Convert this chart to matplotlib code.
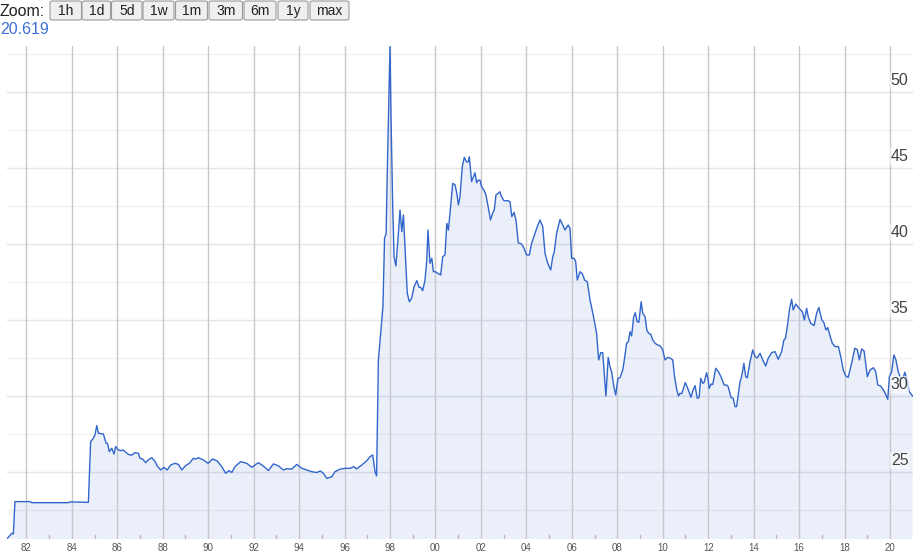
import numpy as np
import matplotlib
matplotlib.use("Agg")
import matplotlib.pyplot as plt
from matplotlib.patches import FancyBboxPatch
from matplotlib.transforms import blended_transform_factory

plt.rcParams['font.family'] = ['Liberation Sans', 'DejaVu Sans']

# Data (decimal year, price)
years = [
    1981.16, 1981.36, 1981.43, 1981.50, 1982.16, 1982.24, 1983.85, 1983.92, 1984.73, 1984.83,
    1984.95, 1985.02, 1985.10, 1985.17, 1985.39, 1985.51, 1985.57, 1985.65, 1985.76, 1985.86,
    1985.93, 1986.05, 1986.15, 1986.26, 1986.34, 1986.49, 1986.63, 1986.78, 1986.93, 1987.00,
    1987.12, 1987.25, 1987.37, 1987.52, 1987.66, 1987.76, 1987.91, 1988.05, 1988.20, 1988.35,
    1988.54, 1988.69, 1988.84, 1988.99, 1989.17, 1989.35, 1989.45, 1989.57, 1989.79, 1990.00,
    1990.20, 1990.40, 1990.60, 1990.77, 1990.92, 1991.04, 1991.18, 1991.43, 1991.70, 1991.92,
    1992.21, 1992.42, 1992.65, 1992.87, 1993.09, 1993.31, 1993.48, 1993.67, 1993.90, 1994.12,
    1994.34, 1994.56, 1994.78, 1994.93, 1995.07, 1995.22, 1995.44, 1995.58, 1995.80, 1996.02,
    1996.24, 1996.41, 1996.53, 1996.76, 1996.98, 1997.12, 1997.24, 1997.34, 1997.41, 1997.49,
    1997.60, 1997.69, 1997.76, 1997.83, 1997.88, 1998.00, 1998.05, 1998.12, 1998.18, 1998.26,
    1998.37, 1998.44, 1998.52, 1998.59, 1998.66, 1998.76, 1998.85, 1998.95, 1999.06, 1999.18,
    1999.28, 1999.35, 1999.44, 1999.54, 1999.62, 1999.67, 1999.76, 1999.84, 1999.91, 1999.98,
    2000.10, 2000.23, 2000.32, 2000.42, 2000.50, 2000.57, 2000.64, 2000.76, 2000.86, 2000.94,
    2001.01, 2001.08, 2001.18, 2001.27, 2001.37, 2001.44, 2001.49, 2001.59, 2001.66, 2001.74,
    2001.81, 2001.88, 2001.96, 2002.03, 2002.13, 2002.21, 2002.32, 2002.42, 2002.52, 2002.59,
    2002.66, 2002.77, 2002.83, 2002.91, 2003.01, 2003.13, 2003.20, 2003.28, 2003.36, 2003.46,
    2003.55, 2003.64, 2003.79, 2003.89, 2004.01, 2004.13, 2004.23, 2004.38, 2004.48, 2004.60,
    2004.72, 2004.82, 2004.94, 2005.07, 2005.16, 2005.23, 2005.33, 2005.48, 2005.60, 2005.70,
    2005.84, 2005.92, 2005.99, 2006.10, 2006.17, 2006.24, 2006.36, 2006.47, 2006.56, 2006.68,
    2006.80, 2006.94, 2007.09, 2007.18, 2007.27, 2007.36, 2007.50, 2007.60, 2007.68, 2007.75,
    2007.85, 2007.93, 2008.03, 2008.12, 2008.24, 2008.32, 2008.41, 2008.49, 2008.56, 2008.63,
    2008.72, 2008.79, 2008.87, 2008.95, 2009.05, 2009.12, 2009.22, 2009.30, 2009.38, 2009.47,
    2009.56, 2009.66, 2009.77, 2009.89, 2010.00, 2010.10, 2010.22, 2010.32, 2010.44, 2010.52,
    2010.62, 2010.69, 2010.76, 2010.84, 2010.99, 2011.10, 2011.24, 2011.31, 2011.42, 2011.52,
    2011.60, 2011.67, 2011.76, 2011.82, 2011.93, 2012.00, 2012.04, 2012.13, 2012.20, 2012.33,
    2012.45, 2012.56, 2012.70, 2012.81, 2012.88, 2013.00, 2013.10, 2013.18, 2013.25, 2013.32,
    2013.40, 2013.47, 2013.57, 2013.65, 2013.72, 2013.84, 2013.96, 2014.06, 2014.16, 2014.28,
    2014.40, 2014.53, 2014.64, 2014.79, 2014.94, 2015.08, 2015.23, 2015.33, 2015.40, 2015.50,
    2015.57, 2015.67, 2015.74, 2015.85, 2015.93, 2016.04, 2016.14, 2016.23, 2016.33, 2016.40,
    2016.51, 2016.66, 2016.77, 2016.87, 2016.99, 2017.09, 2017.18, 2017.26, 2017.36, 2017.46,
    2017.58, 2017.73, 2017.84, 2017.94, 2018.05, 2018.16, 2018.31, 2018.45, 2018.56, 2018.65,
    2018.75, 2018.86, 2019.00, 2019.12, 2019.27, 2019.37, 2019.46, 2019.59, 2019.71, 2019.82,
    2019.90, 2019.97, 2020.07, 2020.17, 2020.26, 2020.36, 2020.47, 2020.58, 2020.65, 2020.75,
    2020.84, 2020.99,
]
prices = [
    20.62, 20.97, 20.92, 23.05, 23.05, 22.98, 22.98, 23.03, 23.00, 27.00,
    27.22, 27.43, 28.05, 27.55, 27.50, 26.89, 26.89, 26.34, 26.56, 26.18,
    26.67, 26.45, 26.40, 26.45, 26.34, 26.16, 26.10, 26.27, 26.23, 25.90,
    25.85, 25.61, 25.80, 25.94, 25.70, 25.39, 25.13, 25.30, 25.13, 25.46,
    25.57, 25.50, 25.13, 25.40, 25.57, 25.90, 25.85, 25.94, 25.79, 25.57,
    25.86, 25.72, 25.35, 24.91, 25.09, 24.96, 25.35, 25.68, 25.57, 25.31,
    25.61, 25.40, 25.09, 25.53, 25.40, 25.13, 25.22, 25.18, 25.50, 25.24,
    25.13, 25.02, 24.96, 25.07, 24.91, 24.58, 24.69, 25.02, 25.18, 25.24,
    25.24, 25.35, 25.20, 25.46, 25.74, 26.00, 26.12, 25.02, 24.74, 32.37,
    34.34, 35.88, 40.37, 40.70, 44.65, 52.98, 47.94, 42.45, 39.16, 38.55,
    40.70, 42.24, 40.81, 41.91, 39.82, 36.76, 36.20, 36.42, 37.19, 37.59,
    37.15, 37.15, 36.93, 37.63, 38.95, 40.92, 38.73, 39.06, 38.18, 38.18,
    38.07, 37.96, 39.16, 39.28, 41.36, 40.92, 42.02, 43.99, 43.90, 43.34,
    42.57, 43.11, 45.09, 45.70, 45.40, 45.40, 45.74, 44.10, 44.37, 44.69,
    44.03, 44.20, 44.20, 43.77, 43.55, 43.29, 42.45, 41.58, 42.05, 42.24,
    43.22, 43.34, 43.44, 43.11, 42.85, 42.85, 42.84, 42.78, 41.80, 42.08,
    41.50, 40.09, 40.00, 39.74, 39.28, 39.28, 40.04, 40.70, 41.14, 41.58,
    41.14, 39.39, 38.73, 38.29, 39.16, 39.50, 40.70, 41.62, 41.25, 40.92,
    41.25, 41.03, 39.06, 39.06, 38.84, 37.63, 38.18, 38.02, 37.63, 37.52,
    36.32, 35.33, 34.12, 32.37, 32.85, 32.85, 30.00, 32.54, 31.93, 31.60,
    30.61, 30.07, 31.16, 31.20, 31.71, 32.48, 33.47, 33.58, 34.23, 33.95,
    35.20, 35.48, 34.90, 34.85, 36.20, 35.44, 35.22, 34.34, 34.12, 34.06,
    33.69, 33.47, 33.36, 33.29, 33.03, 32.37, 32.54, 32.50, 32.37, 31.27,
    30.39, 30.00, 30.18, 30.15, 30.88, 30.50, 29.91, 30.29, 30.68, 29.85,
    29.90, 31.16, 30.83, 30.90, 31.53, 31.05, 30.50, 30.79, 30.75, 31.82,
    31.60, 31.27, 30.72, 30.72, 30.61, 29.91, 29.85, 29.30, 29.30, 30.07,
    30.94, 31.27, 32.15, 31.27, 31.20, 32.26, 33.03, 32.59, 32.50, 32.81,
    32.37, 31.97, 32.48, 32.85, 32.92, 32.41, 32.92, 33.68, 33.79, 34.78,
    35.66, 36.36, 35.66, 36.05, 35.90, 35.70, 35.55, 35.00, 35.77, 35.22,
    34.78, 34.63, 35.44, 35.83, 35.04, 34.82, 34.34, 34.50, 33.95, 33.47,
    33.25, 33.25, 32.54, 31.71, 31.32, 31.23, 32.15, 33.14, 33.05, 32.37,
    33.09, 32.95, 31.27, 31.71, 31.86, 31.60, 30.72, 30.65, 30.39, 30.07,
    29.78, 31.27, 31.60, 32.70, 32.37, 31.60, 31.16, 31.20, 31.56, 31.05,
    30.29, 30.00,
]
year_ticks = list(range(1982, 2021, 2))
year_labels = ["%02d" % (y % 100) for y in year_ticks]
minor_years = list(range(1983, 2021, 2))
price_grid = [22.5, 25, 27.5, 30, 32.5, 35, 37.5, 40, 42.5, 45, 47.5, 50, 52.5]
price_labels = [25, 30, 35, 40, 45, 50]
zoom_buttons = ["1h", "1d", "5d", "1w", "1m", "3m", "6m", "1y", "max"]
current_value = "20.619"

W, H = 921, 559
fig = plt.figure(figsize=(W / 100, H / 100), dpi=100)
ax = fig.add_axes([7 / W, (H - 539) / H, 906 / W, 493.5 / H])

line_col = "#3366cc"
ax.set_xlim(1981.15, 2021.01)
ax.set_ylim(20.59, 53.06)

# grid: labelled levels a bit darker than the in-between ones
for g in price_grid:
    c = "#e4e4ea" if g in price_labels else "#f2f2f4"
    ax.axhline(g, color=c, lw=1, zorder=0)
for yv in year_ticks:
    ax.axvline(yv, color="#c8c8cc", lw=1, zorder=3)

ax.fill_between(years, prices, 0, color=line_col, alpha=0.1, lw=0, zorder=1)
ax.plot(years, prices, color=line_col, lw=1, zorder=4)

# minor ticks at odd years
for yv in minor_years:
    ax.plot([yv, yv], [20.59, 20.87], color="#b8b8c0", lw=1, zorder=3)

ax.set_xticks([])
ax.set_yticks([])
for s in ax.spines.values():
    s.set_visible(False)

# x labels below
trans = blended_transform_factory(ax.transData, ax.transAxes)
for yv, lab in zip(year_ticks, year_labels):
    ax.text(yv, -0.019, lab, transform=trans, ha="center", va="center",
            fontsize=7, color="#555555")

# y labels on right, just above gridline
trans_y = blended_transform_factory(ax.transAxes, ax.transData)
for p in price_labels:
    ax.annotate(str(p), xy=(0.995, p), xycoords=trans_y, xytext=(0, 3),
                textcoords="offset points", ha="right", va="bottom",
                fontsize=11.5, color="#444444", zorder=5,
                bbox=dict(boxstyle="square,pad=0.05", fc="white", ec="none", alpha=0.6))

# header
fig.text(0 / W, 1 - 11 / H, "Zoom:", ha="left", va="center", fontsize=11.5, color="#222222")
btn_x = [50, 82, 111.5, 143, 175.5, 209, 244, 278, 310]
btn_w = [31.5, 28.5, 30.5, 31, 32, 33.5, 32, 30, 39]
for lab, bx, bw in zip(zoom_buttons, btn_x, btn_w):
    patch = FancyBboxPatch((bx / W, 1 - 20 / H), bw / W, 19 / H,
                           boxstyle="round,pad=0,rounding_size=0.003",
                           transform=fig.transFigure, fc="#efefef", ec="#9a9a9a", lw=0.8)
    fig.patches.append(patch)
    fig.text((bx + bw / 2) / W, 1 - 11 / H, lab, ha="center", va="center",
             fontsize=10, color="#222222")
fig.text(0 / W, 1 - 29.5 / H, current_value, ha="left", va="center", fontsize=11.5, color="#3d6fd4")

fig.savefig("out.png", dpi=100)
